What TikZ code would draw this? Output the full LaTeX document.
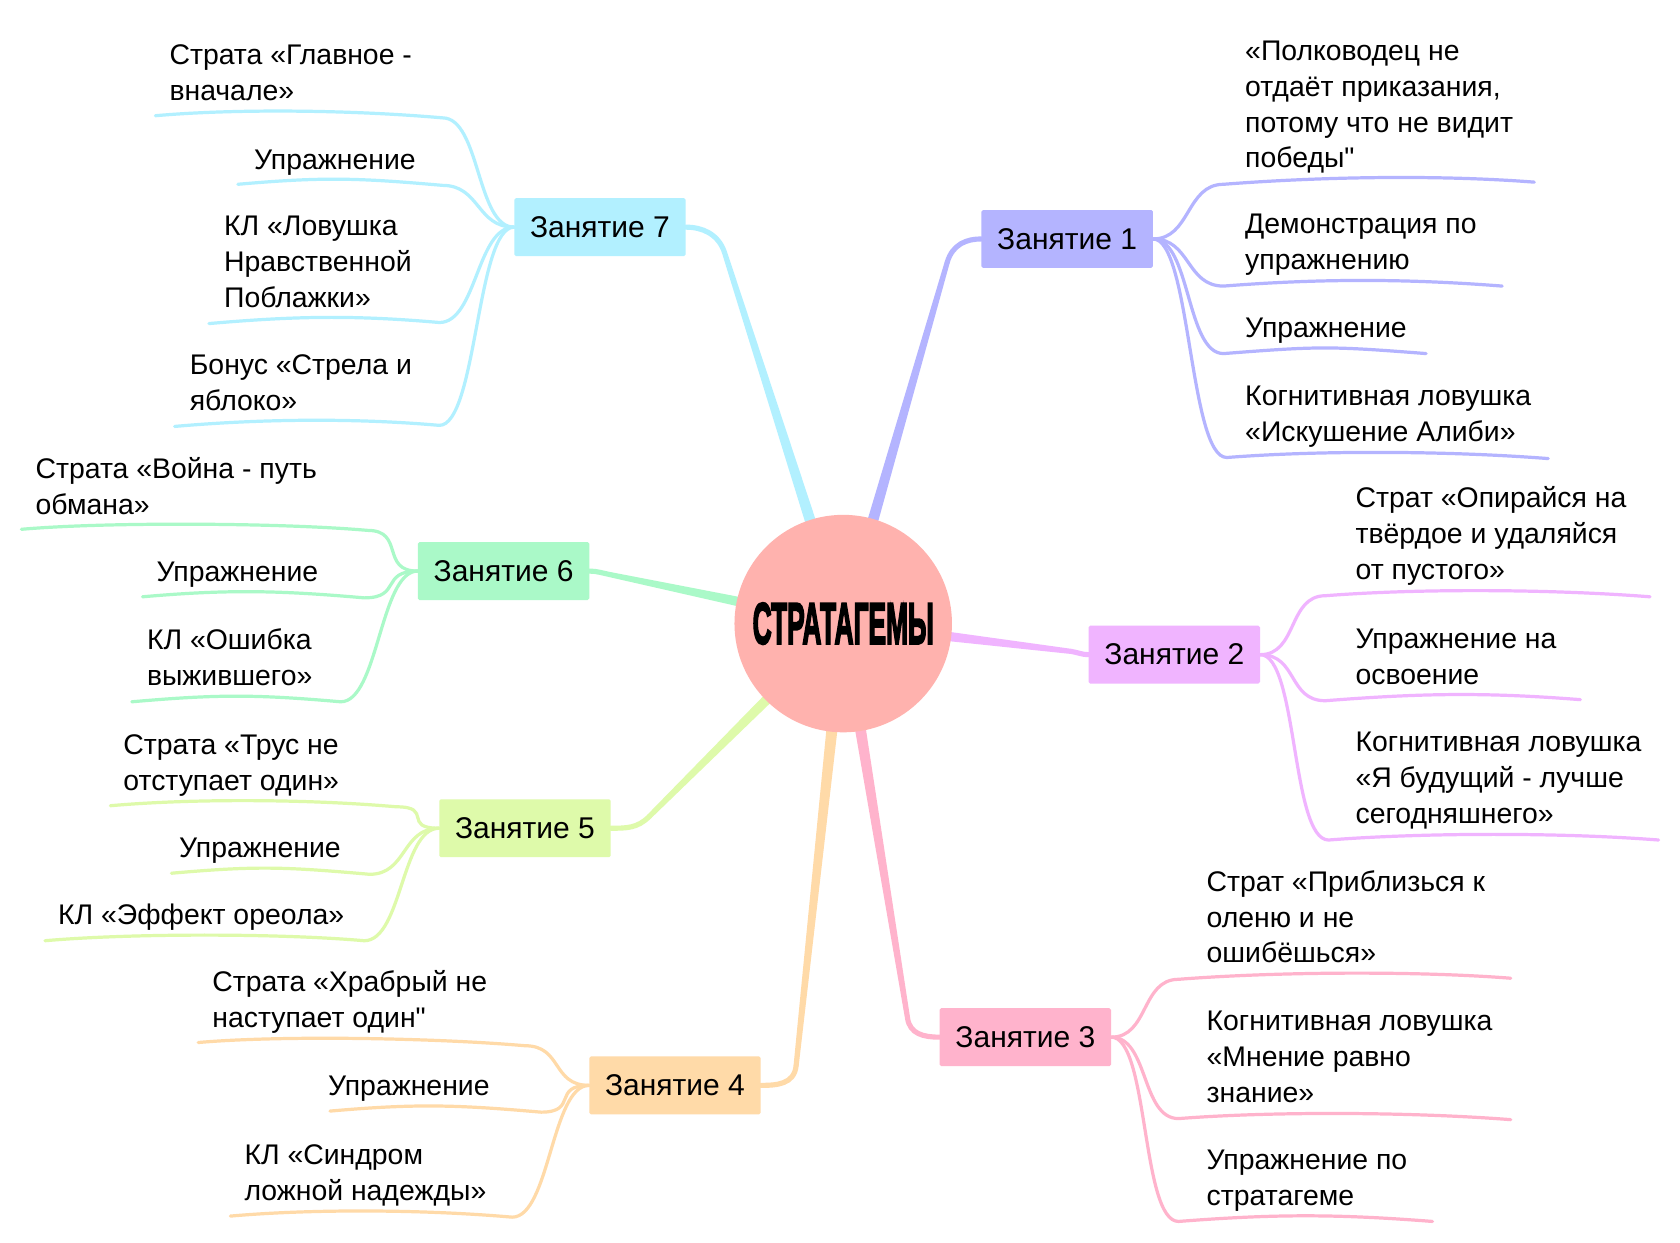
\documentclass[tikz,border=0pt]{standalone}
\usepackage{fontspec}
\usepackage{graphicx}
\setmainfont{Liberation Sans}[Ligatures=TeXOff]
\newfontfamily\titlefont{Liberation Sans}[BoldFeatures={FakeBold=4}]
\usetikzlibrary{calc}
\pgfdeclarelayer{bg}
\pgfsetlayers{bg,main}
\definecolor{cC}{HTML}{FFB2AE}
\definecolor{c1}{HTML}{B4B4FF}
\definecolor{c2}{HTML}{F0B4FF}
\definecolor{c3}{HTML}{FFB3CC}
\definecolor{c4}{HTML}{FFDAA8}
\definecolor{c5}{HTML}{DEFAAA}
\definecolor{c6}{HTML}{AAF9C8}
\definecolor{c7}{HTML}{B2F0FF}
\tikzset{
  topic/.style={fill=#1, minimum width=160pt, minimum height=54pt, inner sep=0pt,
    rounded corners=1.5pt, font=\fontsize{28}{30}\selectfont},
  leaf/.style={align=left, inner sep=0pt, font=\fontsize{26.5}{33.5}\selectfont},
  conn/.style={draw=#1, line width=3pt, line cap=round},
}
\newcommand{\leafR}[7]{%
  \coordinate (#1s) at (#4);
  \coordinate (#1e) at (#5);
  \node[leaf, anchor=south west] (#1) at (#6) {#7\strut};
  \draw[conn=#3] (#2.east) .. controls +(35,0) and +(-35,0) .. (#1s)
     .. controls +(90,-7) and +(-90,-7) .. (#1e);
}
\newcommand{\leafL}[7]{%
  \coordinate (#1s) at (#4);
  \coordinate (#1e) at (#5);
  \node[leaf, anchor=south west] (#1) at (#6) {#7\strut};
  \draw[conn=#3] (#2.west) .. controls +(-35,0) and +(35,0) .. (#1s)
     .. controls +(-80,-7) and +(80,-7) .. (#1e);
}
\newcommand{\branch}[6]{%
  \coordinate (#2) at (#3);
  \fill[#1] ($(c)!6pt!90:(#2)$) -- ($(#2)!2.4pt!-90:(c)$) -- ($(#2)!2.4pt!90:(c)$) -- ($(c)!6pt!-90:(#2)$) -- cycle;
  \draw[#1, line width=4.8pt, line cap=round] (#2) .. controls (#4) and (#5) .. (#6);
}
\begin{document}
\begin{tikzpicture}[x=1pt, y=-1pt]
\begin{pgfonlayer}{bg}
\fill[white] (0,0) rectangle (1568,1160);
\end{pgfonlayer}
\useasboundingbox (0,0) rectangle (1568,1160);

% centre
\node[circle, fill=cC, minimum size=203pt, inner sep=0pt] (c) at (787,582)
  {\resizebox{169pt}{38pt}{\titlefont\bfseries СТРАТАГЕМЫ}};

% topics
\node[topic=c1] (t1) at (996,223) {Занятие 1};
\node[topic=c2] (t2) at (1096,611) {Занятие 2};
\node[topic=c3] (t3) at (957,968) {Занятие 3};
\node[topic=c4] (t4) at (630,1013) {Занятие 4};
\node[topic=c5] (t5) at (490,773) {Занятие 5};
\node[topic=c6] (t6) at (470,533) {Занятие 6};
\node[topic=c7] (t7) at (560,212) {Занятие 7};

% main branches
\begin{pgfonlayer}{bg}
\branch{c1}{k1}{884,245}{889,228}{902,223}{t1.west}
\branch{c7}{k7}{676,235}{670,218}{655,212}{t7.east}
\branch{c6}{k6}{568,536}{563,535}{557,533}{t6.east}
\branch{c5}{k5}{606,762}{595,773}{585,773}{t5.east}
\branch{c4}{k4}{743,995}{741,1012}{725,1013}{t4.east}
\branch{c3}{k3}{847,950}{849,965}{862,968}{t3.west}
\branch{c2}{k2}{1000,608}{1006,609}{1010,611}{t2.west}
\end{pgfonlayer}

% leaves of Занятие 1
\leafR{l1a}{t1}{c1}{1142,172}{1432,170}{1162,167}{«Полководец не\\отдаёт приказания,\\потому что не видит\\победы"}
\leafR{l1b}{t1}{c1}{1142,267}{1402,267}{1162,262}{Демонстрация по\\упражнению}
\leafR{l1c}{t1}{c1}{1142,330}{1331,330}{1162,325}{Упражнение}
\leafR{l1d}{t1}{c1}{1145,427}{1445,428}{1162,422}{Когнитивная ловушка\\«Искушение Алиби»}

% leaves of Занятие 2
\leafR{l2a}{t2}{c2}{1237,556}{1540,557}{1265,551}{Страт «Опирайся на\\твёрдое и удаляйся\\от пустого»}
\leafR{l2b}{t2}{c2}{1237,654}{1475,653}{1265,649}{Упражнение на\\освоение}
\leafR{l2c}{t2}{c2}{1240,784}{1548,784}{1265,779}{Когнитивная ловушка\\«Я будущий - лучше\\сегодняшнего»}

% leaves of Занятие 3
\leafR{l3a}{t3}{c3}{1100,914}{1410,913}{1126,909}{Страт «Приблизься к\\оленю и не\\ошибёшься»}
\leafR{l3b}{t3}{c3}{1100,1044}{1410,1045}{1126,1039}{Когнитивная ловушка\\«Мнение равно\\знание»}
\leafR{l3c}{t3}{c3}{1100,1140}{1337,1140}{1126,1135}{Упражнение по\\стратагеме}

% leaves of Занятие 4
\leafL{l4a}{t4}{c4}{490,976}{185,973}{198,969}{Страта «Храбрый не\\наступает один"}
\leafL{l4b}{t4}{c4}{505,1038}{308,1037}{306,1033}{Упражнение}
\leafL{l4c}{t4}{c4}{478,1136}{215,1135}{228,1131}{КЛ «Синдром\\ложной надежды»}

% leaves of Занятие 5
\leafL{l5a}{t5}{c5}{370,753}{103,752}{115,748}{Страта «Трус не\\отступает один»}
\leafL{l5b}{t5}{c5}{345,816}{160,815}{167,811}{Упражнение}
\leafL{l5c}{t5}{c5}{340,878}{42,878}{54,873}{КЛ «Эффект ореола»}

% leaves of Занятие 6
\leafL{l6a}{t6}{c6}{343,495}{20,494}{33,490}{Страта «Война - путь\\обмана»}
\leafL{l6b}{t6}{c6}{340,558}{133,557}{146,553}{Упражнение}
\leafL{l6c}{t6}{c6}{318,655}{123,655}{137,650}{КЛ «Ошибка\\выжившего»}

% leaves of Занятие 7
\leafL{l7a}{t7}{c7}{413,110}{145,108}{158,104}{Страта «Главное -\\вначале»}
\leafL{l7b}{t7}{c7}{413,173}{222,172}{237,168}{Упражнение}
\leafL{l7c}{t7}{c7}{410,301}{195,302}{209,297}{КЛ «Ловушка\\Нравственной\\Поблажки»}
\leafL{l7d}{t7}{c7}{410,397}{163,398}{177,393}{Бонус «Стрела и\\яблоко»}
\end{tikzpicture}
\end{document}
